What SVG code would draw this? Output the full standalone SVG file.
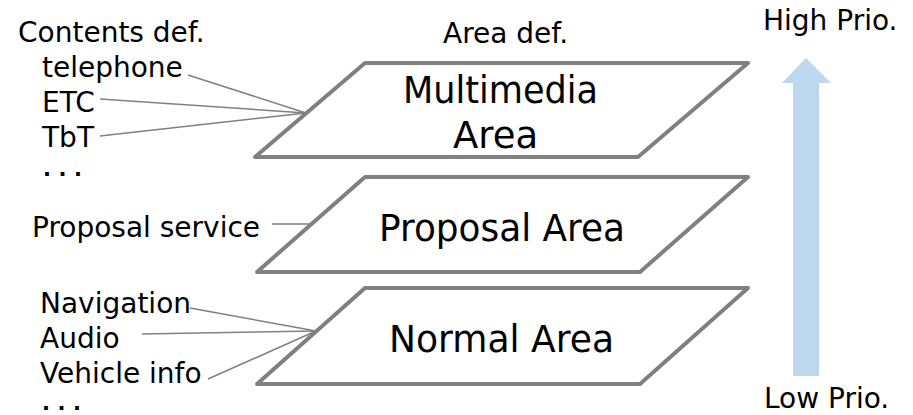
<svg xmlns="http://www.w3.org/2000/svg" width="913" height="415" viewBox="0 0 913 415">
<style>
text{font-family:"DejaVu Sans","Noto Sans",sans-serif;fill:#000}
.s{font-size:28px}
.b{font-size:37px}
.d{font-size:21px;font-weight:bold;letter-spacing:7.5px}
.area{fill:#fff;stroke:#808080;stroke-width:4;stroke-linejoin:round}
.ln{stroke:#808080;stroke-width:1.5;fill:none}
</style>
<rect width="913" height="415" fill="#fff"/>
<text class="s" x="18" y="42">Contents def.</text>
<text class="s" x="443" y="43">Area def.</text>
<g id="connectors">
<line class="ln" x1="188" y1="75" x2="306" y2="113"/>
<line class="ln" x1="100" y1="99" x2="306" y2="113"/>
<line class="ln" x1="100" y1="136" x2="306" y2="113"/>
<line class="ln" x1="272" y1="224" x2="310" y2="224"/>
<line class="ln" x1="190" y1="308" x2="316" y2="331"/>
<line class="ln" x1="142" y1="334" x2="316" y2="331"/>
<line class="ln" x1="208" y1="379" x2="316" y2="331"/>
</g>
<g id="multimedia">
<polygon class="area" points="365,63 748,63 638,157 255,157"/>
<text class="b" x="403" y="103" textLength="195" lengthAdjust="spacingAndGlyphs">Multimedia</text>
<text class="b" x="453" y="147.5">Area</text>
</g>
<g id="proposal">
<polygon class="area" points="365,177 748,177 640,272 257,272"/>
<text class="b" x="379" y="241" textLength="246" lengthAdjust="spacingAndGlyphs">Proposal Area</text>
</g>
<g id="normal">
<polygon class="area" points="365,288 748,288 640,384 257,384"/>
<text class="b" x="389" y="352" textLength="225" lengthAdjust="spacingAndGlyphs">Normal Area</text>
</g>
<g id="contents-mm">
<text class="s" x="42" y="77">telephone</text>
<text class="s" x="42" y="112">ETC</text>
<text class="s" x="42" y="147">TbT</text>
<text class="d" x="43" y="175.5">...</text>
</g>
<g id="contents-proposal">
<text class="s" x="32" y="237">Proposal service</text>
</g>
<g id="contents-normal">
<text class="s" x="40" y="313">Navigation</text>
<text class="s" x="40" y="348">Audio</text>
<text class="s" x="40" y="383">Vehicle info</text>
<text class="d" x="42" y="410">...</text>
</g>
<g id="priority">
<polygon points="793,376 819,376 819,83 831,83 806,58 782,83 793,83" fill="#BDD7EE"/>
<text class="s" x="763" y="30">High Prio.</text>
<text class="s" x="764" y="408">Low Prio.</text>
</g>
</svg>
